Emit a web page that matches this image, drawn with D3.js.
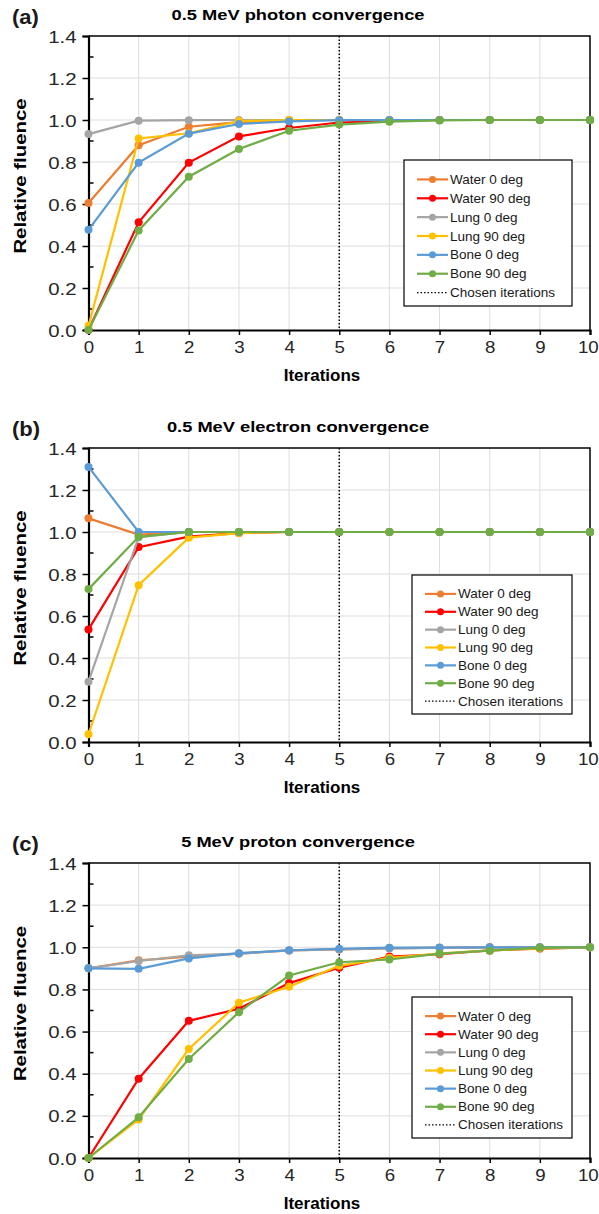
<!DOCTYPE html>
<html>
<head>
	<script src="https://cdn.jsdelivr.net/npm/d3@7"></script>
	<style>
		html, body {
			padding: 0;
			margin: 0;
			background: white;
		}
		text {
			font-family: Arial, "Liberation Sans", sans-serif;
		}
	</style>
</head>
<body>
	<div id="chart"></div>

	<script>
		// data
		var iterations = [0, 1, 2, 3, 4, 5, 6, 7, 8, 9, 10];
		var seriesNames = ["Water 0 deg", "Water 90 deg", "Lung 0 deg", "Lung 90 deg", "Bone 0 deg", "Bone 90 deg"];
		var seriesColors = ["#ED7D31", "#FF0000", "#A5A5A5", "#FFC000", "#5B9BD5", "#70AD47"];
		var panelLetters = ["(a)", "(b)", "(c)"];
		var panelTitles = ["0.5 MeV photon convergence", "0.5 MeV electron convergence", "5 MeV proton convergence"];
		var yTicks = [0, 0.2, 0.4, 0.6, 0.8, 1.0, 1.2, 1.4];
		var chosenIteration = 5;

		var photonValues = [
			[0.605, 0.88, 0.968, 0.99, 0.998, 1.0, 1.0, 1.0, 1.0, 1.0, 1.0],
			[0, 0.513, 0.797, 0.922, 0.962, 0.988, 0.996, 1.0, 1.0, 1.0, 1.0],
			[0.933, 0.997, 0.999, 1.0, 1.0, 1.0, 1.0, 1.0, 1.0, 1.0, 1.0],
			[0.02, 0.912, 0.937, 0.995, 1.0, 1.0, 1.0, 1.0, 1.0, 1.0, 1.0],
			[0.477, 0.797, 0.935, 0.981, 0.993, 0.999, 1.0, 1.0, 1.0, 1.0, 1.0],
			[0, 0.474, 0.73, 0.862, 0.949, 0.978, 0.992, 0.998, 1.0, 1.0, 1.0]
		];
		var electronValues = [
			[1.065, 0.988, 1.0, 1.0, 1.0, 1.0, 1.0, 1.0, 1.0, 1.0, 1.0],
			[0.536, 0.928, 0.978, 0.995, 1.0, 1.0, 1.0, 1.0, 1.0, 1.0, 1.0],
			[0.287, 0.975, 1.0, 1.0, 1.0, 1.0, 1.0, 1.0, 1.0, 1.0, 1.0],
			[0.037, 0.747, 0.973, 0.995, 1.0, 1.0, 1.0, 1.0, 1.0, 1.0, 1.0],
			[1.31, 1.0, 1.0, 1.0, 1.0, 1.0, 1.0, 1.0, 1.0, 1.0, 1.0],
			[0.728, 0.977, 1.0, 1.0, 1.0, 1.0, 1.0, 1.0, 1.0, 1.0, 1.0]
		];
		var protonValues = [
			[0.9, 0.938, 0.955, 0.97, 0.985, 0.99, 0.995, 0.998, 1.0, 1.0, 1.0],
			[0, 0.376, 0.651, 0.708, 0.83, 0.903, 0.956, 0.967, 0.985, 0.994, 1.0],
			[0.9, 0.935, 0.962, 0.97, 0.985, 0.99, 0.995, 0.997, 1.0, 1.0, 1.0],
			[0, 0.183, 0.517, 0.737, 0.813, 0.912, 0.95, 0.97, 0.985, 0.995, 1.0],
			[0.9, 0.898, 0.947, 0.972, 0.986, 0.993, 0.998, 0.999, 1.0, 1.0, 1.0],
			[0, 0.193, 0.47, 0.692, 0.866, 0.929, 0.942, 0.97, 0.984, 0.998, 1.0]
		];

		var width = 599, height = 1214;
		var svg = d3.select('#chart').append('svg')
			.attr('width', width)
			.attr('height', height)
			.style('background-color', 'white');

		// layout of each panel (pixels)
		var panels = [
			{values: photonValues, top: 36, bottom: 330, legend: {x: 404, y: 160, w: 168, h: 146}},
			{values: electronValues, top: 448, bottom: 742, legend: {x: 412, y: 575, w: 160, h: 139}},
			{values: protonValues, top: 863, bottom: 1158, legend: {x: 412, y: 997, w: 160, h: 141}}
		];
		var left = 88.5, right = 590;

		// text helper, a little wide like the picture
		function label(g, x, y, str, opts) {
			var t = g.append('text')
				.attr('transform', 'translate(' + x + ',' + y + ')' + (opts.rotate ? ' rotate(-90)' : '') + ' scale(' + (opts.sx || 1) + ',1)')
				.attr('text-anchor', opts.anchor || 'start')
				.attr('font-size', opts.size)
				.attr('font-weight', opts.bold ? 'bold' : 'normal')
				.attr('fill', opts.color || '#000')
				.text(str);
			return t;
		}

		panels.forEach(function(p, pi) {
			var g = svg.append('g');
			var x = d3.scaleLinear().domain([0, 10]).range([left, right]);
			var y = d3.scaleLinear().domain([0, 1.4]).range([p.bottom, p.top]);

			// gridlines
			g.selectAll('.vgrid').data(iterations.slice(1, -1)).enter().append('line')
				.attr('x1', d => x(d)).attr('x2', d => x(d))
				.attr('y1', p.top).attr('y2', p.bottom)
				.attr('stroke', '#DDDDDD').attr('stroke-width', 1);
			g.selectAll('.hgrid').data(yTicks.slice(1, -1)).enter().append('line')
				.attr('x1', left).attr('x2', right)
				.attr('y1', d => y(d)).attr('y2', d => y(d))
				.attr('stroke', '#DDDDDD').attr('stroke-width', 1);

			// top and right border
			g.append('path')
				.attr('d', 'M' + left + ',' + p.top + 'H' + right + 'V' + p.bottom)
				.attr('fill', 'none').attr('stroke', '#000').attr('stroke-width', 1.5);

			// chosen iteration
			g.append('line')
				.attr('x1', x(chosenIteration)).attr('x2', x(chosenIteration))
				.attr('y1', p.top).attr('y2', p.bottom)
				.attr('stroke', '#000').attr('stroke-width', 1.5)
				.attr('stroke-dasharray', '1.5,2');

			// axes
			var yAxis = d3.axisLeft(y).tickValues(yTicks).tickFormat(d3.format('.1f')).tickSize(6).tickPadding(8);
			var ya = g.append('g').attr('transform', 'translate(' + left + ',0)').call(yAxis);
			var xAxis = d3.axisBottom(x).tickValues(iterations).tickFormat(d3.format('d')).tickSize(5).tickPadding(6);
			var xa = g.append('g').attr('transform', 'translate(0,' + p.bottom + ')').call(xAxis);
			[ya, xa].forEach(function(a) {
				a.select('.domain').attr('stroke', '#000').attr('stroke-width', 2.2);
				a.selectAll('.tick line').attr('stroke', '#000').attr('stroke-width', 1.5);
				a.selectAll('.tick text').attr('font-size', 17).attr('fill', '#262626')
					.attr('font-family', 'Arial, "Liberation Sans", sans-serif');
			});
			ya.selectAll('.tick text').attr('transform', 'translate(-3,0) scale(1.2,1)').attr('dy', '0.36em')
				.attr('x', -9 / 1.2);
			xa.selectAll('.tick text').attr('transform', 'scale(1.1,1)').attr('dy', '0.72em')
				.attr('x', d => d === 10 ? -2 : 0);

			// minor ticks inside
			g.selectAll('.minor').data(d3.range(0.1, 1.4, 0.2)).enter().append('line')
				.attr('x1', left).attr('x2', left + 5)
				.attr('y1', d => y(d)).attr('y2', d => y(d))
				.attr('stroke', '#000').attr('stroke-width', 1.5);

			// series
			var line = d3.line().x((d, i) => x(iterations[i])).y(d => y(d));
			p.values.forEach(function(vals, si) {
				g.append('path').datum(vals)
					.attr('d', line)
					.attr('fill', 'none')
					.attr('stroke', seriesColors[si])
					.attr('stroke-width', 2.2);
				g.selectAll('.dot' + si).data(vals).enter().append('circle')
					.attr('cx', (d, i) => x(iterations[i]))
					.attr('cy', d => y(d))
					.attr('r', 4)
					.attr('fill', seriesColors[si]);
			});

			// titles
			label(g, 12, p.top - 12, panelLetters[pi], {size: 20, bold: true, color: '#1a1a1a', sx: 1.1});
			label(g, 298, p.top - 16, panelTitles[pi], {size: 15, bold: true, anchor: 'middle', sx: 1.22});
			label(g, 322, p.bottom + 51, 'Iterations', {size: 17, bold: true, anchor: 'middle'});
			label(g, 26, (p.top + p.bottom) / 2 - 7, 'Relative fluence', {size: 17, bold: true, anchor: 'middle', rotate: true, sx: 1.2});

			// legend
			var L = p.legend;
			var lg = g.append('g').attr('transform', 'translate(' + L.x + ',' + L.y + ')');
			lg.append('rect').attr('width', L.w).attr('height', L.h)
				.attr('fill', 'white').attr('stroke', '#000').attr('stroke-width', 1.2);
			var rowH = (L.h - 14) / 7;
			var items = seriesNames.concat(['Chosen iterations']);
			items.forEach(function(name, k) {
				var cy = 10 + rowH * (k + 0.5);
				var it = lg.append('g');
				if (k < 6) {
					it.append('line').attr('x1', 13).attr('x2', 44).attr('y1', cy).attr('y2', cy)
						.attr('stroke', seriesColors[k]).attr('stroke-width', 2.2);
					it.append('circle').attr('cx', 28.5).attr('cy', cy).attr('r', 3.5).attr('fill', seriesColors[k]);
				} else {
					it.append('line').attr('x1', 13).attr('x2', 44).attr('y1', cy).attr('y2', cy)
						.attr('stroke', '#000').attr('stroke-width', 1.2).attr('stroke-dasharray', '1.5,2');
				}
				label(it, 46, cy + 4.5, name, {size: 13, color: '#1a1a1a', sx: 1.04});
			});
		});
	</script>
</body>
</html>
